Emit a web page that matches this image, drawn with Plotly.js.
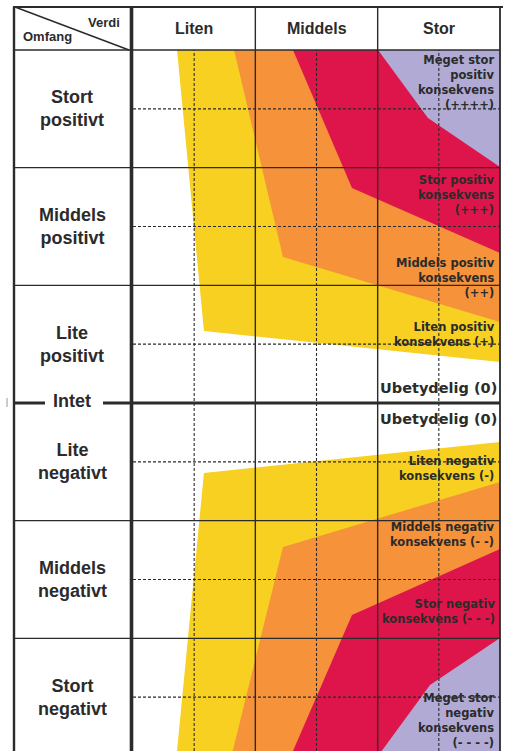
<!DOCTYPE html>
<html><head><meta charset="utf-8">
<script src="https://cdn.plot.ly/plotly-3.0.1.min.js"></script>
<style>html,body{margin:0;padding:0;background:#fff;overflow:hidden}#chart{width:507px;height:751px;}</style>
</head><body><div id="chart"></div>
<script>
// ---- categories ----
const verdiCategories = ["Liten", "Middels", "Stor"];
const verdiCenters = [0.5, 1.5, 2.5];
const omfangCategories = ["Stort<br>positivt", "Middels<br>positivt", "Lite<br>positivt",
                          "Lite<br>negativt", "Middels<br>negativt", "Stort<br>negativt"];
const omfangCenters = [2.5, 1.5, 0.5, -0.5, -1.5, -2.5];
const omfangBounds = [2, 1, -1, -2];

// ---- fan boundaries (x = verdi 0..3, y = omfang -3..3) ----
const yellowPosX = [0.36, 0.58, 3, 3];
const yellowPosY = [3, 0.612, 0.348, 3];
const orangePosX = [0.826, 1.226, 3, 3];
const orangePosY = [3, 1.241, 0.688, 3];
const redPosX = [1.308, 1.79, 3, 3];
const redPosY = [3, 1.827, 1.275, 3];
const purplePosX = [2.003, 2.411, 3, 3];
const purplePosY = [3, 2.422, 2.006, 3];

const yellowNegX = [0.356, 0.58, 3, 3];
const yellowNegY = [-3, -0.595, -0.331, -3];
const orangeNegX = [0.805, 1.226, 3, 3];
const orangeNegY = [-3, -1.224, -0.671, -3];
const redNegX = [1.29, 1.79, 3, 3];
const redNegY = [-3, -1.802, -1.241, -3];
const purpleNegX = [2.003, 2.428, 3, 3];
const purpleNegY = [-3, -2.397, -1.997, -3];

// ---- consequence labels ----
const consequenceLabels = [
  "Meget stor<br>positiv<br>konsekvens<br>(++++)",
  "Stor positiv<br>konsekvens<br>(+++)",
  "Middels positiv<br>konsekvens<br>(++)",
  "Liten positiv<br>konsekvens (+)",
  "Liten negativ<br>konsekvens (-)",
  "Middels negativ<br>konsekvens (- -)",
  "Stor negativ<br>konsekvens (- - -)",
  "Meget stor<br>negativ<br>konsekvens<br>(- - - -)"
];
const neutralLabel = "Ubetydelig (0)";

// ---- layout helpers (positions) ----
const labelY = [2.72, 1.768, 1.062, 0.582, -0.557, -1.118, -1.768, -2.70];
const neutralY = [0.127, -0.136];

const YEL = "rgb(247,208,34)", ORA = "rgb(245,146,58)", RED = "rgb(222,21,74)", PUR = "rgb(177,170,212)";
const INK = "#2b2b2b";

function poly(x, y, c) {
  return {type: "scatter", x: x, y: y, mode: "lines", line: {width: 0, color: c},
          fill: "toself", fillcolor: c, hoverinfo: "skip", showlegend: false};
}
const traces = [
  poly(yellowPosX, yellowPosY, YEL), poly(orangePosX, orangePosY, ORA),
  poly(redPosX, redPosY, RED), poly(purplePosX, purplePosY, PUR),
  poly(yellowNegX, yellowNegY, YEL), poly(orangeNegX, orangeNegY, ORA),
  poly(redNegX, redNegY, RED), poly(purpleNegX, purpleNegY, PUR)
];

const W = 507, H = 751, L = 133, R = 7, T = 50, B = 0;
const pw = W - L - R, ph = H - T - B;
const px = v => (v - L) / pw;          // pixel x -> paper
const py = v => 1 + (T - v) / ph;      // pixel y -> paper

const shapes = [];
// dashed mid lines
verdiCenters.forEach(v => shapes.push({type: "line", xref: "x", yref: "paper", x0: v, x1: v, y0: 0, y1: 1,
  line: {color: INK, width: 1.1, dash: "3px,2px"}}));
omfangCenters.forEach(v => shapes.push({type: "line", xref: "x", yref: "y", x0: 0, x1: 3, y0: v, y1: v,
  line: {color: INK, width: 1.1, dash: "3px,2px"}}));
// solid column separators
[1, 2].forEach(v => shapes.push({type: "line", xref: "x", yref: "paper", x0: v, x1: v, y0: 0, y1: py(7),
  line: {color: INK, width: 1.4}}));
// solid row separators
omfangBounds.forEach(v => shapes.push({type: "line", xref: "paper", yref: "y", x0: px(14), x1: 1, y0: v, y1: v,
  line: {color: INK, width: 1.4}}));
// Intet line
shapes.push({type: "line", xref: "paper", yref: "y", x0: px(14), x1: px(45), y0: 0, y1: 0, line: {color: INK, width: 3}});
shapes.push({type: "line", xref: "paper", yref: "y", x0: px(103), x1: 1, y0: 0, y1: 0, line: {color: INK, width: 3}});
// header bottom
shapes.push({type: "line", xref: "paper", yref: "paper", x0: px(14), x1: 1, y0: 1, y1: 1, line: {color: INK, width: 1.6}});
// top border
shapes.push({type: "line", xref: "paper", yref: "paper", x0: px(13), x1: px(503), y0: py(7), y1: py(7), line: {color: INK, width: 2}});
// left border
shapes.push({type: "line", xref: "paper", yref: "paper", x0: px(14), x1: px(14), y0: 0, y1: py(7), line: {color: INK, width: 2.4}});
// thick separator label column
shapes.push({type: "line", xref: "paper", yref: "paper", x0: px(131.5), x1: px(131.5), y0: 0, y1: py(7), line: {color: INK, width: 3.6}});
// right border
shapes.push({type: "line", xref: "paper", yref: "paper", x0: 1, x1: 1, y0: 0, y1: py(7), line: {color: INK, width: 1.8}});
// diagonal in corner cell
shapes.push({type: "line", xref: "paper", yref: "paper", x0: px(15), x1: px(129), y0: py(7), y1: py(50), line: {color: INK, width: 1.5}});
// small mark at left
shapes.push({type: "line", xref: "paper", yref: "paper", x0: px(7), x1: px(7), y0: py(398), y1: py(407), line: {color: "#999", width: 1}});

const annotations = [];
verdiCategories.forEach((c, i) => annotations.push({xref: "x", yref: "paper", x: verdiCenters[i], y: py(29),
  text: c, showarrow: false, xanchor: "center", yanchor: "middle",
  font: {family: "Liberation Sans, Arial, sans-serif", size: 16, color: INK, weight: "bold"}}));
omfangCategories.forEach((c, i) => annotations.push({xref: "paper", yref: "y", x: px(72), y: omfangCenters[i],
  text: c, showarrow: false, xanchor: "center", yanchor: "middle", align: "center",
  font: {family: "Liberation Sans, Arial, sans-serif", size: 18, color: INK, weight: "bold"}}));
annotations.push({xref: "paper", yref: "y", x: px(72), y: 0, text: "Intet", showarrow: false,
  xanchor: "center", yanchor: "middle", yshift: 2,
  font: {family: "Liberation Sans, Arial, sans-serif", size: 18, color: INK, weight: "bold"}});
annotations.push({xref: "paper", yref: "paper", x: px(122), y: py(22), text: "Verdi", showarrow: false,
  xanchor: "right", yanchor: "middle",
  font: {family: "Liberation Sans, Arial, sans-serif", size: 13, color: INK, weight: "bold"}});
annotations.push({xref: "paper", yref: "paper", x: px(21), y: py(37), text: "Omfang", showarrow: false,
  xanchor: "left", yanchor: "middle",
  font: {family: "Liberation Sans, Arial, sans-serif", size: 13, color: INK, weight: "bold"}});
consequenceLabels.forEach((t, i) => annotations.push({xref: "x", yref: "y", x: 3, y: labelY[i], xshift: -3,
  text: t, showarrow: false, xanchor: "right", yanchor: "middle", align: "right",
  font: {family: "DejaVu Sans, sans-serif", size: 11.5, color: INK, weight: "bold"}}));
neutralY.forEach(v => annotations.push({xref: "x", yref: "y", x: 3, y: v, xshift: -1,
  text: neutralLabel, showarrow: false, xanchor: "right", yanchor: "middle",
  font: {family: "DejaVu Sans, sans-serif", size: 14.5, color: INK, weight: "bold"}}));

const layout = {
  width: W, height: H, margin: {l: L, r: R, t: T, b: B, pad: 0},
  paper_bgcolor: "#fff", plot_bgcolor: "#fff", showlegend: false,
  xaxis: {range: [0, 3], showgrid: false, zeroline: false, showticklabels: false, showline: false, ticks: "", fixedrange: true},
  yaxis: {range: [3 - ph / ((403 - 50) / 3), 3], showgrid: false, zeroline: false, showticklabels: false, showline: false, ticks: "", fixedrange: true},
  shapes: shapes, annotations: annotations
};
Plotly.newPlot("chart", traces, layout, {staticPlot: true, displayModeBar: false});
</script></body></html>
